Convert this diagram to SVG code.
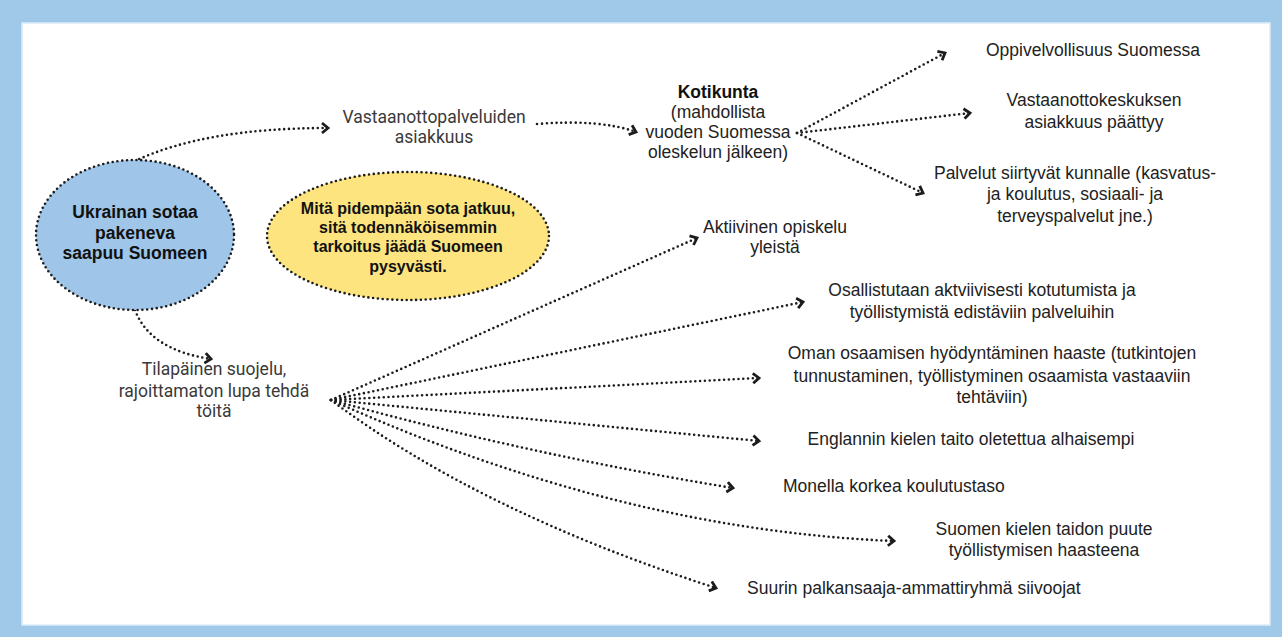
<svg xmlns="http://www.w3.org/2000/svg" width="1282" height="637" viewBox="0 0 1282 637">
  <style>
    .lbl { font-family: "Liberation Sans", Arial, sans-serif; font-size: 17.5px; fill: #222; text-anchor: middle; }
    .lbl-l { font-family: "Liberation Sans", Arial, sans-serif; font-size: 17.5px; fill: #222; }
    .soft { font-family: Roboto, "Liberation Sans", sans-serif; font-size: 17.5px; fill: #3a3a3a; text-anchor: middle; }
    .bold { font-family: "Liberation Sans", Arial, sans-serif; font-weight: bold; fill: #111; text-anchor: middle; }
    .dots { fill: none; stroke: #1c1c1c; stroke-width: 2.6; stroke-linecap: round; stroke-dasharray: 0 4.8; }
    .edge { fill: none; stroke: #1c1c1c; stroke-width: 2.6; stroke-linecap: round; stroke-dasharray: 0 4.8; marker-end: url(#chev); }
  </style>
  <defs>
    <marker id="chev" markerUnits="userSpaceOnUse" markerWidth="14" markerHeight="14" viewBox="-10 -7 14 14" refX="0" refY="0" orient="auto">
      <path d="M-6,-5 L0,0 L-6,5" fill="none" stroke="#1c1c1c" stroke-width="2.8" stroke-linejoin="miter"/>
    </marker>
  </defs>

  <!-- frame -->
  <rect x="0" y="0" width="1282" height="637" fill="#9fc8e9"/>
  <rect x="22" y="23" width="1248" height="602" fill="#ffffff" stroke="#dcecf8" stroke-width="1.5"/>

  <!-- connectors -->
  <g id="connectors">
    <path class="edge" d="M135,161 Q205,128 328,128"/>
    <path class="edge" d="M537,124 Q600,119 636,132"/>
    <path class="edge" d="M797,133 L945,53"/>
    <path class="edge" d="M797,133 L970,113"/>
    <path class="edge" d="M797,133 L923,193"/>
    <path class="edge" d="M135,310 Q150,350 211,359"/>
    <path class="edge" d="M331,400 L697,238"/>
    <path class="edge" d="M331,400 L803,302"/>
    <path class="edge" d="M331,400 L759,378"/>
    <path class="edge" d="M331,400 L759,441"/>
    <path class="edge" d="M331,400 Q530,455 733,488"/>
    <path class="edge" d="M331,400 Q620,530 894,541"/>
    <path class="edge" d="M331,400 Q480,512 716,588"/>
  </g>

  <!-- start node -->
  <g id="node-start">
    <ellipse cx="135" cy="235" rx="99" ry="75" fill="#9fc5e8"/>
    <ellipse class="dots" cx="135" cy="235" rx="99" ry="75"/>
    <text class="bold" font-size="17.5" x="135"><tspan x="135" y="218">Ukrainan sotaa</tspan><tspan x="135" y="239">pakeneva</tspan><tspan x="135" y="259">saapuu Suomeen</tspan></text>
  </g>

  <!-- note -->
  <g id="node-note">
    <ellipse cx="408" cy="236" rx="141" ry="64" fill="#fde47f"/>
    <ellipse class="dots" cx="408" cy="236" rx="141" ry="64"/>
    <text class="bold" font-size="16" x="408"><tspan x="408" y="214">Mitä pidempään sota jatkuu,</tspan><tspan x="408" y="233">sitä todennäköisemmin</tspan><tspan x="408" y="252">tarkoitus jäädä Suomeen</tspan><tspan x="408" y="272">pysyvästi.</tspan></text>
  </g>

  <g id="node-vastaanotto">
    <text class="soft"><tspan x="434" y="123">Vastaanottopalveluiden</tspan><tspan x="434" y="143">asiakkuus</tspan></text>
  </g>

  <g id="node-kotikunta">
    <text class="bold" font-size="17.5" x="718" y="98">Kotikunta</text>
    <text class="lbl"><tspan x="718" y="118">(mahdollista</tspan><tspan x="718" y="138">vuoden Suomessa</tspan><tspan x="718" y="158">oleskelun jälkeen)</tspan></text>
  </g>

  <g id="node-oppivelvollisuus">
    <text class="lbl" x="1093" y="56">Oppivelvollisuus Suomessa</text>
  </g>
  <g id="node-vastaanottokeskus">
    <text class="lbl"><tspan x="1094" y="106">Vastaanottokeskuksen</tspan><tspan x="1094" y="128">asiakkuus päättyy</tspan></text>
  </g>
  <g id="node-palvelut">
    <text class="lbl"><tspan x="1075" y="179">Palvelut siirtyvät kunnalle (kasvatus-</tspan><tspan x="1075" y="200">ja koulutus, sosiaali- ja</tspan><tspan x="1075" y="222">terveyspalvelut jne.)</tspan></text>
  </g>

  <g id="node-tilapainen">
    <text class="soft"><tspan x="214" y="375">Tilapäinen suojelu,</tspan><tspan x="214" y="397">rajoittamaton lupa tehdä</tspan><tspan x="214" y="417">töitä</tspan></text>
  </g>

  <g id="node-aktiivinen">
    <text class="lbl"><tspan x="775" y="233">Aktiivinen opiskelu</tspan><tspan x="775" y="253">yleistä</tspan></text>
  </g>
  <g id="node-osallistutaan">
    <text class="lbl"><tspan x="982" y="296">Osallistutaan aktviivisesti kotutumista ja</tspan><tspan x="982" y="318">työllistymistä edistäviin palveluihin</tspan></text>
  </g>
  <g id="node-oman">
    <text class="lbl"><tspan x="992" y="359">Oman osaamisen hyödyntäminen haaste (tutkintojen</tspan><tspan x="992" y="382">tunnustaminen, työllistyminen osaamista vastaaviin</tspan><tspan x="992" y="403">tehtäviin)</tspan></text>
  </g>
  <g id="node-englanti">
    <text class="lbl" x="971" y="445">Englannin kielen taito oletettua alhaisempi</text>
  </g>
  <g id="node-monella">
    <text class="lbl-l" x="783" y="492">Monella korkea koulutustaso</text>
  </g>
  <g id="node-suomi">
    <text class="lbl"><tspan x="1044" y="535">Suomen kielen taidon puute</tspan><tspan x="1044" y="556">työllistymisen haasteena</tspan></text>
  </g>
  <g id="node-siivoojat">
    <text class="lbl-l" x="747" y="594">Suurin palkansaaja-ammattiryhmä siivoojat</text>
  </g>
</svg>
